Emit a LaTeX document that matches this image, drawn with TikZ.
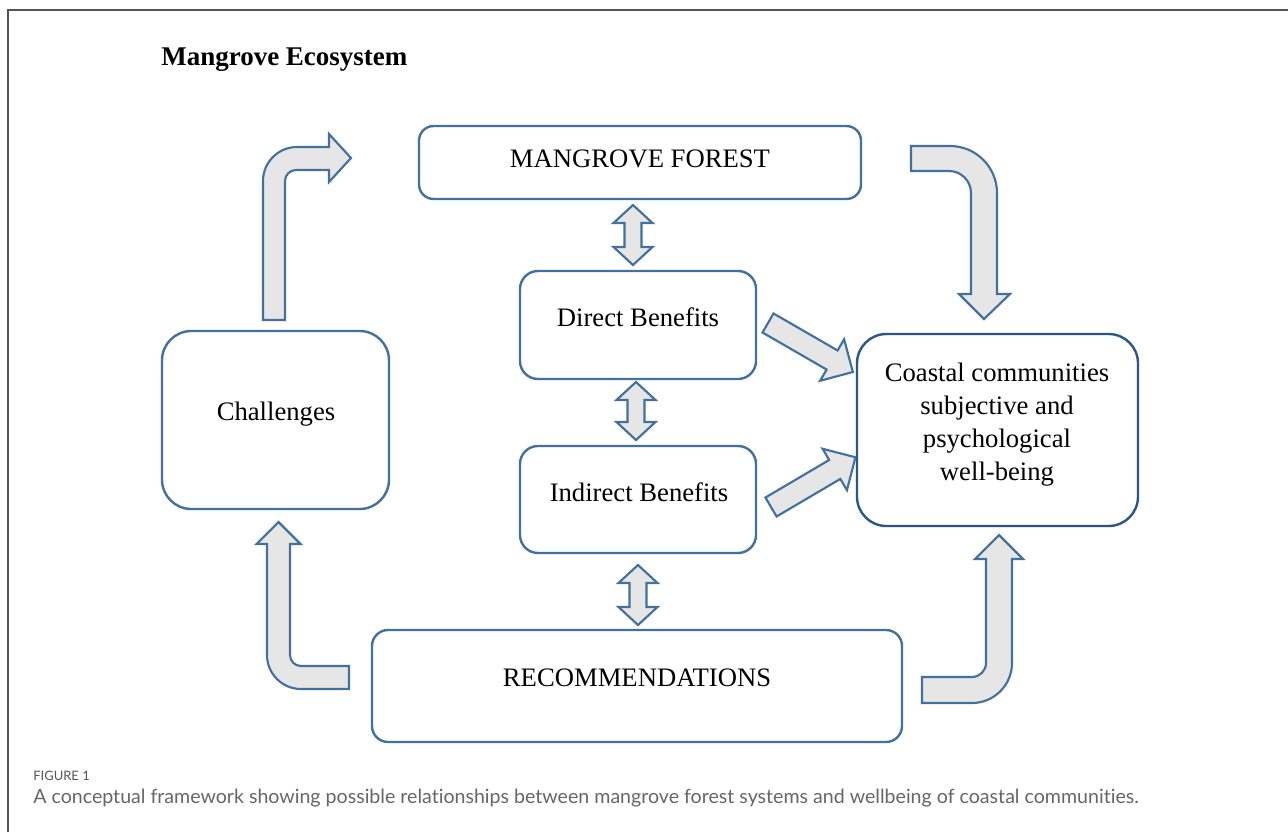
\documentclass[tikz,border=0pt]{standalone}
\usepackage{fontspec}
\setmainfont{Liberation Serif}
\newfontfamily\capfont[Ligatures=NoCommon]{Lato}
\definecolor{boxblue}{HTML}{41719C}
\definecolor{navyline}{HTML}{2A5783}
\definecolor{arrowfill}{HTML}{E6E6E6}
\definecolor{framegray}{HTML}{555555}
\definecolor{captiongray}{HTML}{666666}

% vertical two-headed block arrow: centre x, top tip y, bottom tip y
\newcommand{\twowayarrow}[3]{%
  \draw[blockarrow] (#1,#2) -- ({#1+19.5},{#2+18}) -- ({#1+8.5},{#2+18})
    -- ({#1+8.5},{#3-18}) -- ({#1+19.5},{#3-18}) -- (#1,#3)
    -- ({#1-19.5},{#3-18}) -- ({#1-8.5},{#3-18}) -- ({#1-8.5},{#2+18})
    -- ({#1-19.5},{#2+18}) -- cycle;}

\begin{document}
\begin{tikzpicture}[x=0.75pt,y=-0.75pt,
  box/.style={draw=boxblue, line width=1.8pt, rounded corners=#1, inner sep=0pt},
  box/.default=12pt,
  lbl/.style={anchor=base, inner sep=0pt, font=\fontsize{20}{24.75}\selectfont},
  blockarrow/.style={fill=arrowfill, draw=boxblue, line width=1.6pt, line join=miter}]

\useasboundingbox (0,0) rectangle (1288,832);
\fill[white] (0,0) rectangle (1288,832);

% frame of the figure panel
\draw[framegray, line width=1.5pt] (7.5,832) -- (7.5,10) -- (1288,10);

% title
\node[anchor=base west, inner sep=0pt, font=\fontsize{20.25}{24}\selectfont\bfseries]
  (title) at (161,65) {Mangrove Ecosystem};

% boxes
\node[box=11pt, minimum width=331.5pt, minimum height=54.75pt] (forest) at (640,162.5) {};
\node[box=13.5pt, minimum width=177pt, minimum height=81pt] (direct) at (638,325) {};
\node[box=13.5pt, minimum width=177pt, minimum height=80.25pt] (indirect) at (638,499.5) {};
\node[box=22pt, minimum width=170.25pt, minimum height=133.5pt] (challenges) at (275.5,420) {};
\node[box=22pt, draw=navyline, minimum width=210.75pt, minimum height=144pt] (coastal) at (997.5,430) {};
\node[box=12pt, minimum width=397.5pt, minimum height=84pt] (recs) at (637,686) {};

% box texts
\node[lbl] (forestText) at (640,167) {MANGROVE FOREST};
\node[lbl] (directText) at (638,326) {Direct Benefits};
\node[lbl] (indirectText) at (639,501) {Indirect Benefits};
\node[lbl] (challengesText) at (276,420) {Challenges};
\node[lbl] (recsText) at (637,686) {RECOMMENDATIONS};
\node[lbl, anchor=center, align=center] (coastalText) at (997,425)
  {Coastal communities\\subjective and\\psychological\\well-being};

% bent arrow: challenges up to the forest
\draw[blockarrow] (263,320) -- (263,181) arc[start angle=180, end angle=270, radius=34]
  -- (329,147) -- (329,134) -- (351,158) -- (329,182) -- (329,170) -- (296,170)
  arc[start angle=270, end angle=180, radius=11] -- (285,320) -- cycle;

% bent arrow: forest down to the coastal communities
\draw[blockarrow] (911,146) -- (950,146) arc[start angle=270, end angle=360, radius=47]
  -- (997,294) -- (1010,294) -- (984,319) -- (959,294) -- (971,294) -- (971,193)
  arc[start angle=0, end angle=-90, radius=22] -- (911,171) -- cycle;

% bent arrow: recommendations up to the challenges
\draw[blockarrow] (349,689) -- (301,689) arc[start angle=90, end angle=180, radius=34]
  -- (267,544) -- (256.5,544) -- (278.5,522) -- (300.5,544) -- (290,544) -- (290,655)
  arc[start angle=180, end angle=90, radius=11] -- (349,666) -- cycle;

% bent arrow: recommendations up to the coastal communities
\draw[blockarrow] (922,677) -- (972,677) arc[start angle=90, end angle=0, radius=14]
  -- (986,559) -- (975,559) -- (999,535) -- (1023,559) -- (1012,559) -- (1012,663)
  arc[start angle=0, end angle=90, radius=40] -- (922,703) -- cycle;

% two-way arrows along the central column
\twowayarrow{633}{205}{265}
\twowayarrow{636}{382}{440}
\twowayarrow{638}{565}{625}

% benefits feeding the coastal communities
\begin{scope}[shift={(768,323)}, rotate=-30]
  \draw[blockarrow] (0,-11) -- (74,-11) -- (74,-24) -- (98,0) -- (74,24) -- (74,11) -- (0,11) -- cycle;
\end{scope}
\begin{scope}[shift={(771,507)}, rotate=30.5]
  \draw[blockarrow] (0,-11) -- (74,-11) -- (74,-24) -- (98,0) -- (74,24) -- (74,11) -- (0,11) -- cycle;
\end{scope}

% caption
\node[anchor=base west, inner sep=0pt, text=framegray, font=\capfont\fontsize{9.75}{12}\selectfont]
  (figLabel) at (33,780) {FIGURE 1};
\node[anchor=base west, inner sep=0pt, text=captiongray, font=\capfont\fontsize{14.7}{17}\selectfont]
  (caption) at (33,803) {A conceptual framework showing possible relationships between mangrove forest systems and wellbeing of coastal communities.};
\end{tikzpicture}
\end{document}
